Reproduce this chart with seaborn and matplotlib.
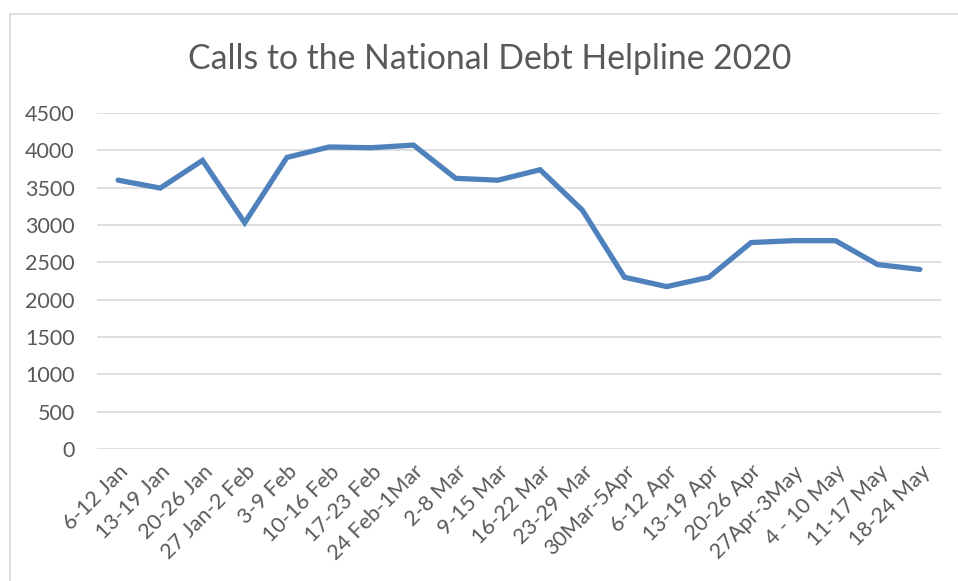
import matplotlib
matplotlib.use("Agg")
import matplotlib.pyplot as plt
import seaborn as sns
import pandas as pd
from matplotlib.patches import Rectangle

weeks = ["6-12 Jan", "13-19 Jan", "20-26 Jan", "27 Jan-2 Feb", "3-9 Feb", "10-16 Feb",
         "17-23 Feb", "24 Feb-1Mar", "2-8 Mar", "9-15 Mar", "16-22 Mar", "23-29 Mar",
         "30Mar-5Apr", "6-12 Apr", "13-19 Apr", "20-26 Apr", "27Apr-3May", "4 - 10 May",
         "11-17 May", "18-24 May"]
calls = [3600, 3495, 3865, 3030, 3905, 4045, 4035, 4070, 3625, 3600, 3740, 3200,
         2300, 2175, 2300, 2765, 2790, 2790, 2470, 2405]
y_ticks = [0, 500, 1000, 1500, 2000, 2500, 3000, 3500, 4000, 4500]
title = "Calls to the National Debt Helpline 2020"

sns.set_theme(style="white")
plt.rcParams['font.family'] = ['Lato', 'DejaVu Sans']

df = pd.DataFrame({"week": weeks, "calls": calls})
df["pos"] = range(len(df))

fig = plt.figure(figsize=(9.58, 5.81), dpi=100)
ax = fig.add_axes([97/958, 1 - 449/581, (941 - 97)/958, (449 - 113)/581])

fig.patches.append(Rectangle((10/958, -0.1), 1.2, (581 - 14)/581 + 0.1,
                             transform=fig.transFigure, fill=False,
                             edgecolor="#D9D9D9", linewidth=1.2))

for t in y_ticks:
    ax.axhline(t, color="#D9D9D9", linewidth=1.2, zorder=0)

sns.lineplot(data=df, x="pos", y="calls", ax=ax, color="#4F81BD", linewidth=3.8,
             solid_joinstyle="miter", solid_capstyle="round")

ax.set_xlim(-0.5, len(weeks) - 0.5)
ax.set_ylim(0, 4500)
ax.set_yticks(y_ticks)
ax.set_yticklabels([str(t) for t in y_ticks], fontsize=15.5, color="#595959")
ax.set_xticks(df["pos"])
ax.set_xticklabels(weeks, rotation=45, ha="right", rotation_mode="anchor",
                   fontsize=15.5, color="#595959")
ax.tick_params(axis="both", length=0)
ax.tick_params(axis="x", pad=9)
ax.tick_params(axis="y", pad=16)
ax.set_xlabel("")
ax.set_ylabel("")
for s in ax.spines.values():
    s.set_visible(False)

fig.text(490/958, 1 - 59/581, title, ha="center", va="center",
         fontsize=24.3, color="#595959")

fig.savefig("out.png", dpi=100)
